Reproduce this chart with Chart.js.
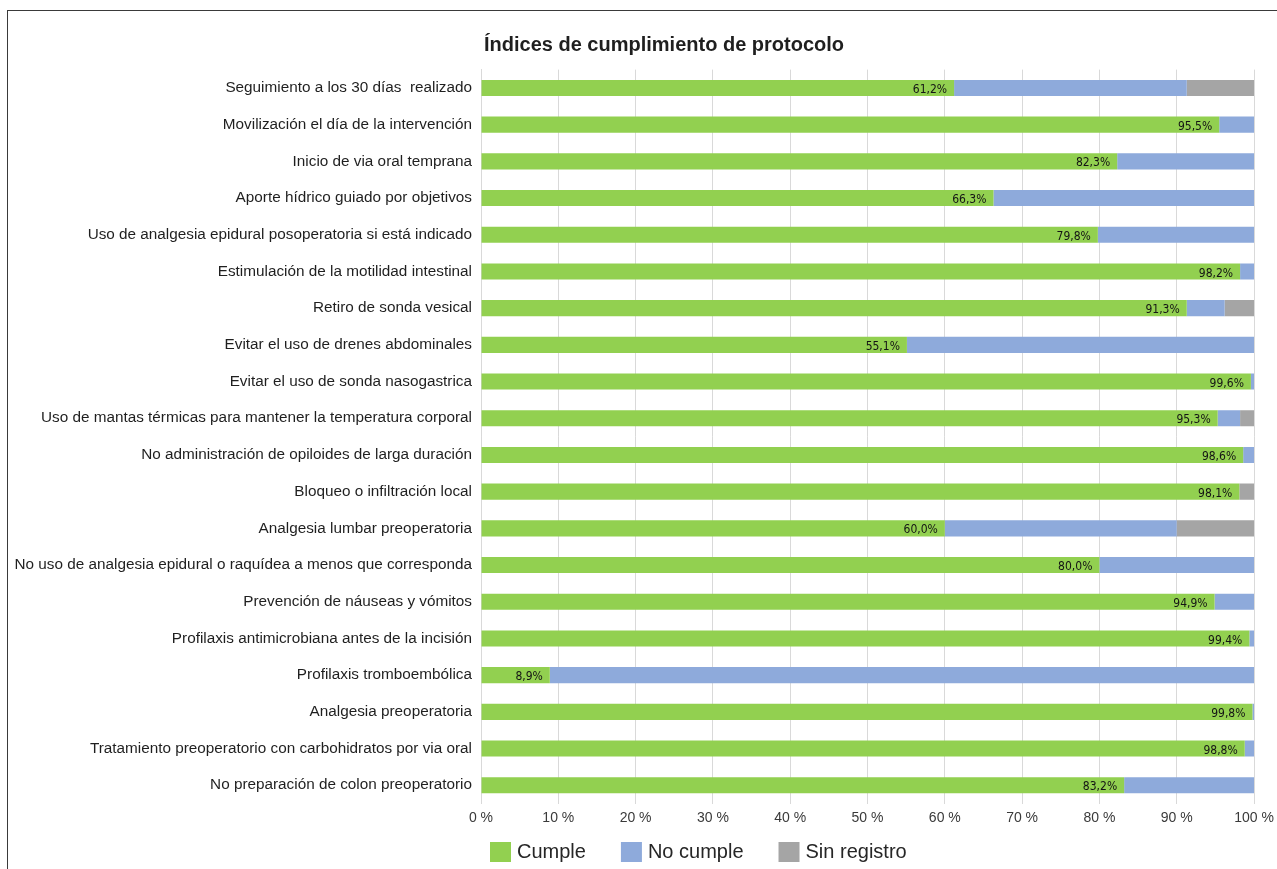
<!DOCTYPE html>
<html>
<head>
<meta charset="utf-8">
<script src="https://cdn.jsdelivr.net/npm/chart.js@4.4.1/dist/chart.umd.min.js"></script>
<style>
  html, body { margin: 0; padding: 0; background: #ffffff; }
  #wrap { position: relative; width: 1277px; height: 869px; overflow: hidden; }
  #frame { position: absolute; left: 7px; top: 10px; width: 1300px; height: 900px;
           border-top: 1px solid #3a3a3a; border-left: 1px solid #3a3a3a; pointer-events: none; }
  canvas { position: absolute; left: 0; top: 0; }
</style>
</head>
<body>
<div id="wrap">
  <canvas id="c" width="1277" height="869"></canvas>
  <div id="frame"></div>
</div>
<script>
const chartTitle = "Índices de cumplimiento de protocolo";

const categories = [
  "Seguimiento a los 30 días  realizado",
  "Movilización el día de la intervención",
  "Inicio de via oral temprana",
  "Aporte hídrico guiado por objetivos",
  "Uso de analgesia epidural posoperatoria si está indicado",
  "Estimulación de la motilidad intestinal",
  "Retiro de sonda vesical",
  "Evitar el uso de drenes abdominales",
  "Evitar el uso de sonda nasogastrica",
  "Uso de mantas térmicas para mantener la temperatura corporal",
  "No administración de opiloides de larga duración",
  "Bloqueo o infiltración local",
  "Analgesia lumbar preoperatoria",
  "No uso de analgesia epidural o raquídea a menos que corresponda",
  "Prevención de náuseas y vómitos",
  "Profilaxis antimicrobiana antes de la incisión",
  "Profilaxis tromboembólica",
  "Analgesia preoperatoria",
  "Tratamiento preoperatorio con carbohidratos por via oral",
  "No preparación de colon preoperatorio"
];

const cumple      = [61.2, 95.5, 82.3, 66.3, 79.8, 98.2, 91.3, 55.1, 99.6, 95.3, 98.6, 98.1, 60.0, 80.0, 94.9, 99.4,  8.9, 99.8, 98.8, 83.2];
const noCumple    = [30.1,  4.5, 17.7, 33.7, 20.2,  1.8,  4.9, 44.9,  0.4,  2.9,  1.4,  0.0, 30.0, 20.0,  5.1,  0.6, 91.1,  0.2,  1.2, 16.8];
const sinRegistro = [ 8.7,  0.0,  0.0,  0.0,  0.0,  0.0,  3.8,  0.0,  0.0,  1.8,  0.0,  1.9, 10.0,  0.0,  0.0,  0.0,  0.0,  0.0,  0.0,  0.0];

const seriesNames = ["Cumple", "No cumple", "Sin registro"];
const xTicks = [0, 10, 20, 30, 40, 50, 60, 70, 80, 90, 100];

const colors = ["#92d050", "#8eaadb", "#a5a5a5"];

const AREA_LEFT = 481, AREA_RIGHT = 1254, AREA_TOP = 69.6, AREA_BOTTOM = 803.6;
const W = 1277, H = 869;

const decorPlugin = {
  id: 'decor',
  afterDatasetsDraw(chart) {
    const ctx = chart.ctx;
    const meta = chart.getDatasetMeta(0);
    ctx.save();
    ctx.font = '12px "DejaVu Sans Condensed", "DejaVu Sans", sans-serif';
    ctx.fillStyle = '#141414';
    ctx.textAlign = 'right';
    ctx.textBaseline = 'middle';
    meta.data.forEach((bar, i) => {
      const v = chart.data.datasets[0].data[i];
      const txt = v.toFixed(1).replace('.', ',') + '%';
      ctx.fillText(txt, bar.x - 7, bar.y + 2);
    });
    ctx.restore();
  },
  afterDraw(chart) {
    const ctx = chart.ctx;
    ctx.save();
    ctx.font = 'bold 20px "Liberation Sans", Arial, sans-serif';
    ctx.fillStyle = '#1f1f1f';
    ctx.textAlign = 'center';
    ctx.textBaseline = 'middle';
    ctx.fillText(chartTitle, 664, 45);
    ctx.font = '20px "Liberation Sans", Arial, sans-serif';
    ctx.textAlign = 'left';
    let x = 490;
    const y = 852;
    chart.data.datasets.forEach((ds) => {
      ctx.fillStyle = ds.backgroundColor;
      ctx.fillRect(x, y - 10, 21, 20);
      ctx.fillStyle = '#262626';
      ctx.fillText(ds.label, x + 27, y);
      x += 27 + ctx.measureText(ds.label).width + 35;
    });
    ctx.restore();
  }
};

new Chart(document.getElementById('c'), {
  type: 'bar',
  data: {
    labels: categories,
    datasets: [
      { label: seriesNames[0], data: cumple, backgroundColor: colors[0] },
      { label: seriesNames[1], data: noCumple, backgroundColor: colors[1] },
      { label: seriesNames[2], data: sinRegistro, backgroundColor: colors[2] }
    ]
  },
  options: {
    indexAxis: 'y',
    responsive: false,
    animation: false,
    devicePixelRatio: 1,
    barPercentage: 0.44,
    categoryPercentage: 1.0,
    layout: { padding: { left: 0, right: W - AREA_RIGHT, top: AREA_TOP, bottom: 35.4 } },
    plugins: {
      legend: { display: false },
      title: { display: false },
      tooltip: { enabled: false }
    },
    scales: {
      x: {
        stacked: true,
        min: 0, max: 100,
        afterFit(scale) {
          scale.height = H - 35.4 - AREA_BOTTOM;
          scale.paddingLeft = 0;
          scale.paddingRight = 0;
        },
        afterBuildTicks(scale) { scale.ticks = xTicks.map(v => ({ value: v })); },
        ticks: {
          callback: (v) => v + ' %',
          font: { family: '"Liberation Sans", Arial, sans-serif', size: 14 },
          color: '#3a3a3a',
          padding: 6,
          maxRotation: 0
        },
        grid: { color: '#d9d9d9', lineWidth: 1, drawTicks: false },
        border: { display: false }
      },
      y: {
        stacked: true,
        afterFit(scale) { scale.width = AREA_LEFT; },
        ticks: {
          font: { family: '"Liberation Sans", Arial, sans-serif', size: 15.3 },
          color: '#1f1f1f',
          padding: 9,
          autoSkip: false
        },
        grid: { display: false, drawTicks: false },
        border: { display: true, color: '#d9d9d9' }
      }
    }
  },
  plugins: [decorPlugin]
});
</script>
</body>
</html>
